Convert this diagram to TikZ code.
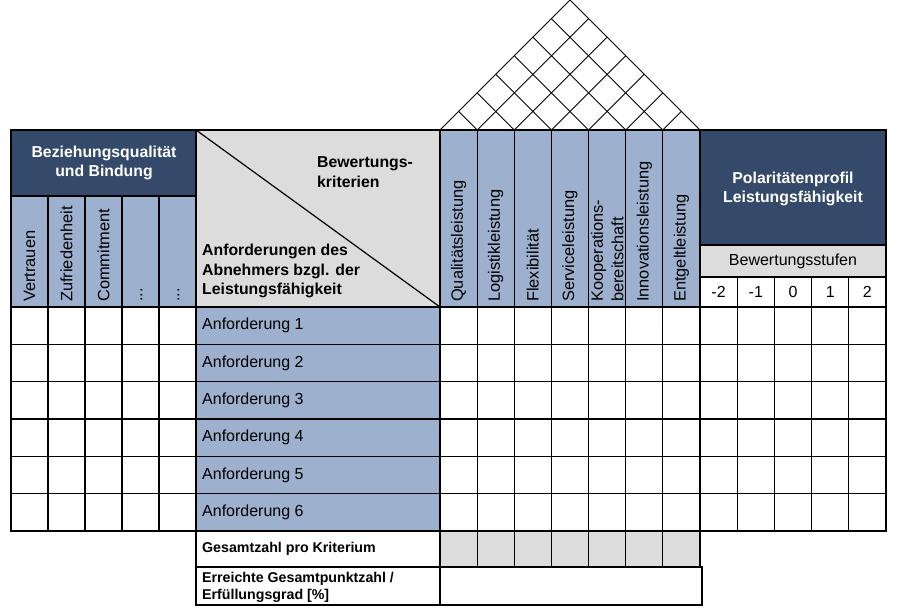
\documentclass[tikz,border=0pt]{standalone}
\usepackage{fontspec}
\setmainfont{Liberation Sans}
\usetikzlibrary{calc}
\definecolor{dunkel}{HTML}{354A6B}
\definecolor{hellblau}{HTML}{9DB0CE}
\definecolor{grau}{HTML}{DCDCDC}

\begin{document}
\begin{tikzpicture}[x=1pt,y=-1pt]
  \tikzset{Zelle/.style = {draw, line width=1.2pt}}
  \tikzset{Dach/.style = {draw, line width=0.9pt}}
  \tikzset{Text/.style = {inner sep=0pt, font=\fontsize{16}{19}\selectfont}}
  \tikzset{Kopf/.style = {Text, font=\fontsize{15.8}{19.5}\selectfont\bfseries}}
  \tikzset{Klein/.style = {Text, anchor=west, align=left, font=\fontsize{14.2}{17}\selectfont\bfseries}}
  \tikzset{Senkrecht/.style = {Text, rotate=90, anchor=west, align=left, font=\fontsize{16.4}{20.5}\selectfont}}

  \useasboundingbox (0,0) rectangle (900,608);

  \coordinate (L) at (440,130);
  \coordinate (R) at (700,130);
  \coordinate (T) at (570,0);
  \draw[Dach] (L) -- (T) -- (R);
  \foreach \i in {1,...,6} {
    \draw[Dach] ($(L)!\i/7!(R)$) -- ($(T)!\i/7!(R)$);
    \draw[Dach] ($(L)!\i/7!(R)$) -- ($(L)!\i/7!(T)$);
  }

  \fill[dunkel] (11,130) rectangle (196,196);
  \fill[hellblau] (11,196) rectangle (196,307);
  \fill[grau] (196,130) rectangle (440,307);
  \fill[hellblau] (440,130) rectangle (700,307);
  \fill[dunkel] (700,130) rectangle (886,245);
  \fill[grau] (700,245) rectangle (886,277);
  \fill[hellblau] (196,307) rectangle (440,531);
  \fill[grau] (440,531) rectangle (700,567);

  \draw[Zelle] (11,130) rectangle (196,531);
  \draw[Zelle] (11,196) -- (196,196);
  \foreach \i in {1,...,4}
    \draw[Zelle] (11+37*\i,196) -- (11+37*\i,531);

  \draw[Zelle] (196,130) rectangle (440,531);
  \draw[Zelle] (196,130) -- (440,307);

  \draw[Zelle] (440,130) rectangle (700,567);
  \foreach \i in {1,...,6}
    \draw[Zelle] (440+260/7*\i,130) -- (440+260/7*\i,567);
  \draw[Zelle] (440,531) -- (700,531);

  \draw[Zelle] (700,130) rectangle (886,531);
  \draw[Zelle] (700,245) -- (886,245);
  \draw[Zelle] (700,277) -- (886,277);
  \foreach \i in {1,...,4}
    \draw[Zelle] (700+37.2*\i,277) -- (700+37.2*\i,531);

  \foreach \j in {0,...,5}
    \draw[Zelle] (11,307+224/6*\j) -- (886,307+224/6*\j);

  \draw[Zelle] (196,531) rectangle (440,567);
  \draw[Zelle] (196,567) rectangle (440,605);
  \draw[Zelle] (440,567) rectangle (702,605);

  \node[Kopf, white, align=center] (Bez) at (104,163) {Beziehungsqualität\\und Bindung};
  \node[Kopf, anchor=west, align=left] (Krit) at (317,172) {Bewertungs-\\kriterien};
  \node[Kopf, anchor=west, align=left] (Anf) at (202,271) {Anforderungen des\\Abnehmers bzgl. der\\Leistungsfähigkeit};
  \node[Kopf, white, align=center] (Pol) at (793,189) {Polaritätenprofil\\Leistungsfähigkeit};
  \node[Text] (Stufen) at (793,261) {Bewertungsstufen};

  \foreach \n [count=\i from 0] in {-2,-1,0,1,2}
    \node[Text] (S\i) at (718.6+37.2*\i,292) {\n};

  \foreach \t [count=\i from 0] in {Vertrauen, Zufriedenheit, Commitment}
    \node[Senkrecht] (B\i) at (29.5+37*\i,302) {\t};
  \node[Senkrecht] (B3) at (141.5,302) {...};
  \node[Senkrecht] (B4) at (178.5,302) {...};

  \foreach \t [count=\i from 0] in {Qualitätsleistung, Logistikleistung, Flexibilität, Serviceleistung, {Kooperations-\\bereitschaft}, Innovationsleistung, Entgeltleistung}
    \node[Senkrecht] (K\i) at (440+130/7+260/7*\i,302) {\t};

  \foreach \i in {1,...,6}
    \node[Text, anchor=west] (A\i) at (202,307+224/6*\i-224/12) {Anforderung \i};

  \node[Klein] (Ges) at (202,549) {Gesamtzahl pro Kriterium};
  \node[Klein] (Err) at (202,587) {Erreichte Gesamtpunktzahl /\\Erfüllungsgrad [\%]};
\end{tikzpicture}
\end{document}
